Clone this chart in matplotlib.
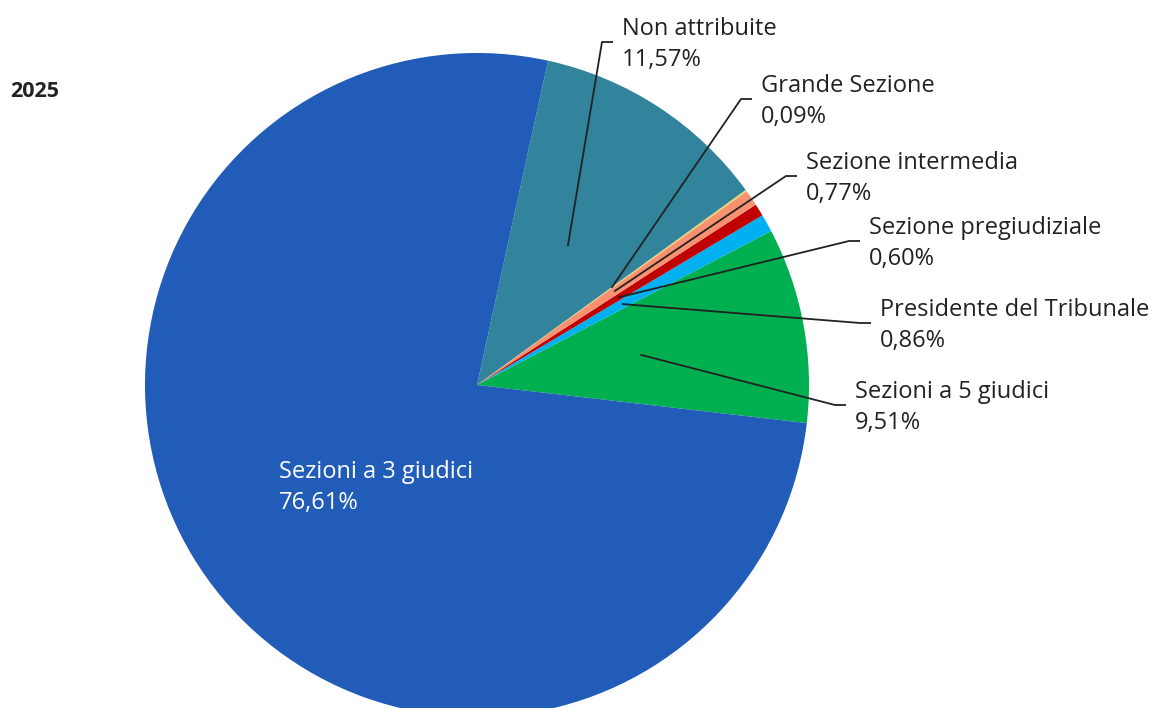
import numpy as np
import matplotlib.pyplot as plt

plt.rcParams['font.family'] = ['Open Sans', 'DejaVu Sans']

# data, in drawing order (counterclockwise from the lower right)
categories = [
    "Sezioni a 5 giudici",
    "Presidente del Tribunale",
    "Sezione pregiudiziale",
    "Sezione intermedia",
    "Grande Sezione",
    "Non attribuite",
    "Sezioni a 3 giudici",
]
shares = [9.51, 0.86, 0.60, 0.77, 0.09, 11.57, 76.61]
share_labels = ["9,51%", "0,86%", "0,60%", "0,77%", "0,09%", "11,57%", "76,61%"]
year = "2025"

colors = ["#00B050", "#00B0F0", "#C00000", "#F9906F", "#E6D36E", "#31849B", "#215CB8"]

W, H = 1153, 708
fig = plt.figure(figsize=(W / 100, H / 100), dpi=100)
ax = fig.add_axes([0, 0, 1, 1])

cx, cy, R = 477, 385, 332
start = 6.59  # degrees, measured with y pointing down

# y axis is inverted, so counterclock=False draws them counterclockwise on screen
wedges, _ = ax.pie(
    shares,
    colors=colors,
    center=(cx, cy),
    radius=R,
    startangle=start,
    counterclock=False,
    wedgeprops=dict(linewidth=0),
    frame=True,
)
ax.set_xlim(0, W)
ax.set_ylim(H, 0)
ax.set_aspect("equal")
ax.axis("off")

# outside label anchors (screen pixels): text left x, elbow y
label_pos = [(855, 405), (880, 323), (869, 241), (806, 176), (761, 99), (622, 42)]
fs = 17

cum = 0.0
for i, (name, val, lab) in enumerate(zip(categories, shares, share_labels)):
    mid = start - (cum + val / 2) / 100 * 360  # screen angle, y down
    cum += val
    if i == len(categories) - 1:
        ax.text(279, 478, name, color="white", fontsize=fs, ha="left", va="baseline")
        ax.text(279, 509, lab, color="white", fontsize=fs, ha="left", va="baseline")
        continue
    a = np.deg2rad(mid)
    sx = cx + 0.5 * R * np.cos(a)
    sy = cy + 0.5 * R * np.sin(a)
    tx, ey = label_pos[i]
    ax.plot([sx, tx - 20, tx - 9], [sy, ey, ey], color="#222222", lw=1.3,
            solid_capstyle="butt")
    ax.text(tx, ey - 7, name, color="#222222", fontsize=fs,
            ha="left", va="baseline")
    ax.text(tx, ey + 24, lab, color="#222222", fontsize=fs,
            ha="left", va="baseline")

ax.text(10, 97, year, fontsize=15.5, fontweight="bold", color="#222222",
        ha="left", va="baseline")

fig.savefig("out.png", dpi=100)
